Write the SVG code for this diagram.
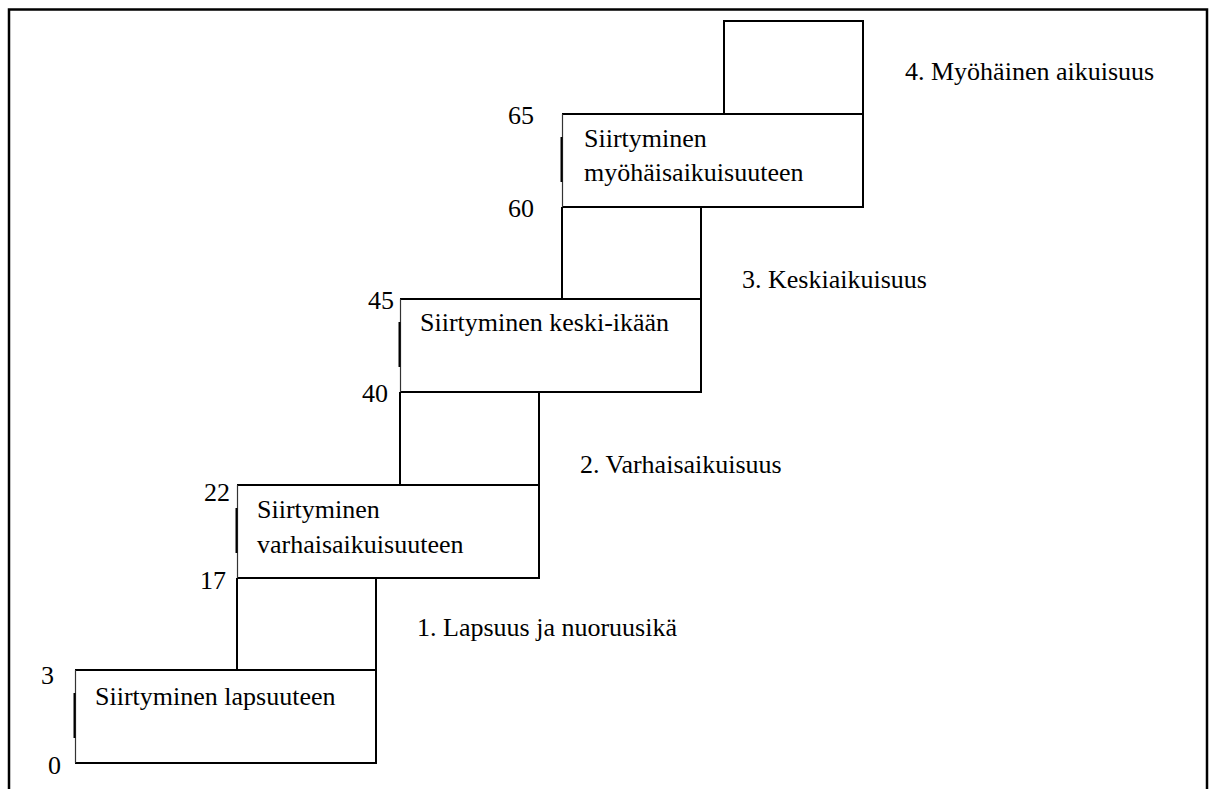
<svg xmlns="http://www.w3.org/2000/svg" width="1215" height="789" viewBox="0 0 1215 789">
<style>
text{font-family:'Liberation Serif','Tinos','Times New Roman','DejaVu Serif',serif;font-size:26px;fill:#000}
.l{stroke:#000;stroke-width:2;fill:none}
.lg{stroke:#333;stroke-width:1.2;fill:none}
.frame{fill:none;stroke:#000;stroke-width:2.5}
</style>
<rect width="1215" height="789" fill="#fff"/>
<rect class="frame" x="9" y="9.5" width="1198" height="800"/>

<g id="connectors">
  <path class="l" d="M237 578 V670 M376 578 V670"/>
  <path class="l" d="M400 392 V485 M539 392 V485"/>
  <path class="l" d="M562 207 V299 M701 207 V299"/>
  <path class="l" d="M724 114 V21 H863 V114"/>
</g>

<g id="box1">
  <path class="l" d="M75 670 H376 V763 H75"/>
  <path class="lg" d="M75.5 670 V763"/>
  <path class="l" d="M74.5 693 V738"/>
  <text x="95" y="705">Siirtyminen lapsuuteen</text>
</g>
<g id="box2">
  <path class="l" d="M237 485 H539 V578 H237"/>
  <path class="lg" d="M237.5 485 V578"/>
  <path class="l" d="M236.5 508 V553"/>
  <text x="257" y="518">Siirtyminen</text>
  <text x="257" y="553">varhaisaikuisuuteen</text>
</g>
<g id="box3">
  <path class="l" d="M400 299 H701 V392 H400"/>
  <path class="lg" d="M400.5 299 V392"/>
  <path class="l" d="M399.5 322 V367"/>
  <text x="420" y="331">Siirtyminen keski-ikään</text>
</g>
<g id="box4">
  <path class="l" d="M562 114 H863 V207 H562"/>
  <path class="lg" d="M562.5 114 V207"/>
  <path class="l" d="M561.5 137 V182"/>
  <text x="584" y="147">Siirtyminen</text>
  <text x="584" y="181">myöhäisaikuisuuteen</text>
</g>

<g id="ages">
  <text x="48" y="774">0</text>
  <text x="41" y="684">3</text>
  <text x="200" y="589">17</text>
  <text x="204" y="501">22</text>
  <text x="362" y="402">40</text>
  <text x="368" y="309">45</text>
  <text x="508" y="217">60</text>
  <text x="508" y="124">65</text>
</g>

<g id="stages">
  <text x="417" y="636">1. Lapsuus ja nuoruusikä</text>
  <text x="580" y="473">2. Varhaisaikuisuus</text>
  <text x="742" y="288">3. Keskiaikuisuus</text>
  <text x="905" y="80">4. Myöhäinen aikuisuus</text>
</g>
</svg>
